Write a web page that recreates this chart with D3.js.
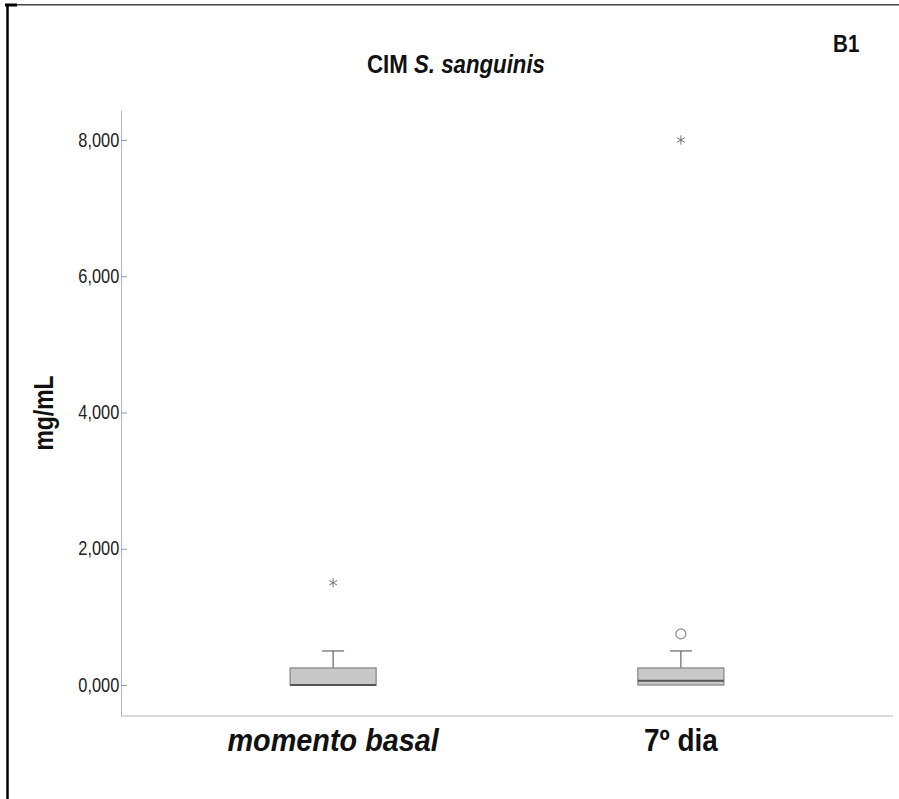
<!DOCTYPE html>
<html>
<head>
<meta charset="utf-8">
<script src="https://cdn.jsdelivr.net/npm/d3@7"></script>
<style>
  body { margin: 0; background: #fff; }
  text { font-family: "Liberation Sans Narrow", "Arial Narrow", "Liberation Sans", sans-serif; }
</style>
</head>
<body>
<svg id="chart"></svg>
<script>
// groups and box summaries (mg/mL)
const groups = ["momento basal", "7º dia"];
const lowWhisker = [0, 0];
const q1 = [0, 0];
const median = [0, 62.5];
const q3 = [250, 250];
const highWhisker = [500, 500];
// outliers: circle = mild, star = extreme
const mildOutliers = [[], [750]];
const extremeOutliers = [[1500], [8000]];
const yTicks = [0, 2000, 4000, 6000, 8000];

const width = 899, height = 799;
const narrow = 0.84; // no condensed font installed, squeeze horizontally
const svg = d3.select("#chart").attr("width", width).attr("height", height);

// frame bits on the left/top edge
svg.append("rect").attr("x", 7).attr("y", 4).attr("width", width - 7).attr("height", 1.5)
    .attr("fill", "#444");
svg.append("line").attr("x1", 5).attr("x2", 17).attr("y1", 5).attr("y2", 5)
    .attr("stroke", "#000").attr("stroke-width", 3);
svg.append("line").attr("x1", 7.5).attr("x2", 7.5).attr("y1", 4).attr("y2", height)
    .attr("stroke", "#000").attr("stroke-width", 2.5);

const plot = { left: 121, right: 893, top: 110, bottom: 716 };

const y = d3.scaleLinear()
    .domain([-455, 8440])
    .range([plot.bottom, plot.top]);

const x = d3.scalePoint()
    .domain(groups)
    .range([plot.left, plot.right])
    .padding(0.61);

const boxW = 86;

// text squeezed around its anchor point
function label(sel, px, py, sx) {
    return sel.append("g").attr("transform", `translate(${px},${py}) scale(${sx},1)`).append("text");
}

// axes
const yAxis = svg.append("g")
    .attr("transform", `translate(${plot.left},0)`)
    .call(d3.axisLeft(y).tickValues(yTicks).tickSize(-6).tickPadding(2).tickSizeOuter(0));
yAxis.selectAll("text").text(d => (d / 1000) + ",000")
    .attr("font-size", 19.5).attr("fill", "#222")
    .attr("transform", `scale(${narrow},1)`);
yAxis.select(".domain").attr("stroke", "#b5b5b5");
yAxis.selectAll(".tick line").attr("stroke", "#999");

svg.append("line")
    .attr("x1", plot.left).attr("x2", plot.right)
    .attr("y1", plot.bottom).attr("y2", plot.bottom)
    .attr("stroke", "#b5b5b5");

// boxes
const boxes = svg.append("g");
groups.forEach((g, i) => {
    const cx = x(g);
    const b = boxes.append("g");
    b.append("line")
        .attr("x1", cx).attr("x2", cx)
        .attr("y1", y(q3[i])).attr("y2", y(highWhisker[i]))
        .attr("stroke", "#666").attr("stroke-width", 1.2);
    b.append("line")
        .attr("x1", cx - 11).attr("x2", cx + 11)
        .attr("y1", y(highWhisker[i])).attr("y2", y(highWhisker[i]))
        .attr("stroke", "#666").attr("stroke-width", 1.2);
    b.append("line")
        .attr("x1", cx).attr("x2", cx)
        .attr("y1", y(q1[i])).attr("y2", y(lowWhisker[i]))
        .attr("stroke", "#666");
    b.append("rect")
        .attr("x", cx - boxW / 2).attr("width", boxW)
        .attr("y", y(q3[i])).attr("height", y(q1[i]) - y(q3[i]))
        .attr("fill", "#c8c8c8").attr("stroke", "#8a8a8a").attr("stroke-width", 1.3);
    b.append("line")
        .attr("x1", cx - boxW / 2).attr("x2", cx + boxW / 2)
        .attr("y1", y(median[i])).attr("y2", y(median[i]))
        .attr("stroke", "#555").attr("stroke-width", 2);

    b.selectAll("circle")
        .data(mildOutliers[i])
        .join("circle")
        .attr("cx", cx).attr("cy", d => y(d)).attr("r", 5)
        .attr("fill", "none").attr("stroke", "#888").attr("stroke-width", 1.2);

    b.selectAll("path.star")
        .data(extremeOutliers[i])
        .join("path")
        .attr("class", "star")
        .attr("transform", d => `translate(${cx},${y(d)})`)
        .attr("d", d3.symbol(d3.symbolAsterisk, 60))
        .attr("stroke", "#777").attr("stroke-width", 1)
        .attr("fill", "none");
});

// category labels
groups.forEach((g, i) => {
    label(svg, x(g), 751, i === 0 ? 0.93 : 0.9)
        .attr("text-anchor", "middle")
        .attr("font-size", 31)
        .attr("font-weight", "bold")
        .attr("font-style", i === 0 ? "italic" : "normal")
        .attr("fill", "#111")
        .text(g);
});

// y label
svg.append("g")
    .attr("transform", `translate(53,${(plot.top + plot.bottom) / 2}) rotate(-90) scale(0.85,1)`)
    .append("text")
    .attr("text-anchor", "middle")
    .attr("font-size", 27)
    .attr("font-weight", "bold")
    .attr("fill", "#111")
    .text("mg/mL");

// title
const title = label(svg, 456, 73, 0.89)
    .attr("text-anchor", "middle")
    .attr("font-size", 25)
    .attr("font-weight", "bold")
    .attr("fill", "#111");
title.append("tspan").text("CIM ");
title.append("tspan").attr("font-style", "italic").text("S. sanguinis");

label(svg, 833, 52, 0.86)
    .attr("font-size", 24)
    .attr("font-weight", "bold")
    .attr("fill", "#111")
    .text("B1");
</script>
</body>
</html>
